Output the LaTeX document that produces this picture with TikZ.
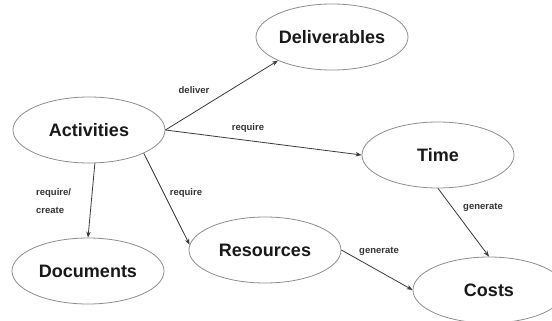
\documentclass[tikz,border=0pt]{standalone}
\usepackage{fontspec}
\setmainfont{Liberation Sans}
\usetikzlibrary{shapes.geometric,arrows.meta}
\definecolor{edgegray}{HTML}{8E8E8E}
\definecolor{linegray}{HTML}{3A3A3A}
\tikzset{
  entity/.style={ellipse, draw=edgegray, line width=0.8pt, fill=white,
    minimum width=152pt, minimum height=66pt, inner sep=0pt,
    font=\fontsize{18}{20}\selectfont\bfseries, text=black!90},
  rel/.style={draw=linegray, line width=0.8pt,
    -{Stealth[length=6pt,width=4.5pt]}},
  lbl/.style={font=\fontsize{9.5}{11}\selectfont\bfseries, text=black!80,
    inner sep=0pt, align=left}
}
\begin{document}
\begin{tikzpicture}[x=1pt,y=-1pt]
\useasboundingbox (0,0) rectangle (552,321);
\clip (0,0) rectangle (552,321);
\fill[white] (0,0) rectangle (552,321);
\node[entity] (del) at (332,37) {Deliverables};
\node[entity] (act) at (89,130) {Activities};
\node[entity] (time) at (438,155) {Time};
\node[entity] (doc) at (88,271) {Documents};
\node[entity] (res) at (265,250) {Resources};
\node[entity] (cost) at (489,290) {Costs};
\draw[rel] (act.east) -- (del.south west);
\draw[rel] (act.east) -- (time.west);
\draw[rel] (act.-80) -- (doc.north);
\draw[rel] (act.-23) -- (res.176);
\draw[rel] (time.south) -- (cost.north);
\draw[rel] (res.east) -- (cost.west);
\node[lbl] (l1) at (194,90) {deliver};
\node[lbl] (l2) at (248,128) {require};
\node[lbl, anchor=west] (l3) at (36,193) {require/};
\node[lbl, anchor=west] (l4) at (36,210) {create};
\node[lbl] (l5) at (186,193) {require};
\node[lbl] (l6) at (483,207) {generate};
\node[lbl] (l7) at (379,251) {generate};
\end{tikzpicture}
\end{document}
